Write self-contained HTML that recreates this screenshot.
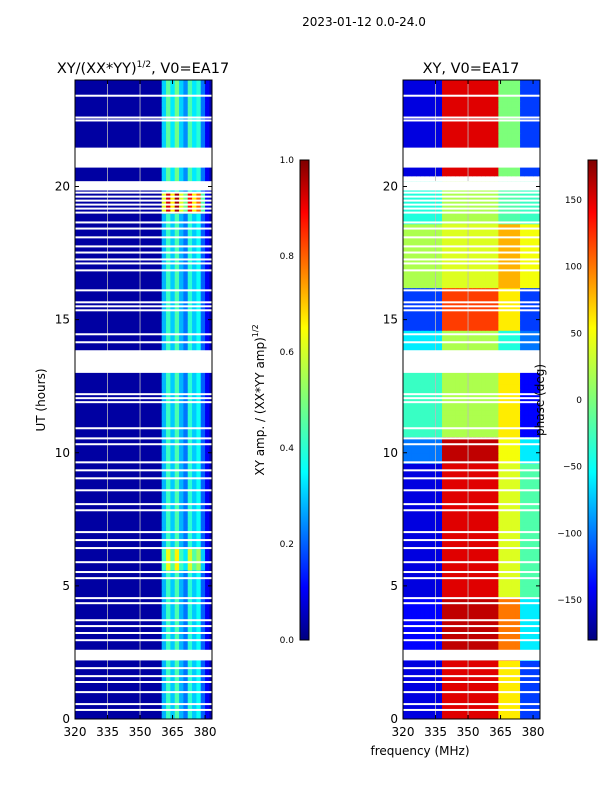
<!DOCTYPE html>
<html><head><meta charset="utf-8">
<style>
body{margin:0;background:#fff;width:600px;height:800px;overflow:hidden}
svg{display:block;font-family:"DejaVu Sans","Liberation Sans",sans-serif}
</style></head>
<body>
<svg id="fig" width="600" height="800" viewBox="0 0 600 800">
<defs>
<linearGradient id="jetv" x1="0" y1="1" x2="0" y2="0">
<stop offset="0" stop-color="#00007f"/><stop offset="0.11" stop-color="#0000ff"/>
<stop offset="0.35" stop-color="#00ffff"/><stop offset="0.5" stop-color="#7dff7a"/>
<stop offset="0.65" stop-color="#ffff00"/><stop offset="0.89" stop-color="#ff0000"/>
<stop offset="1" stop-color="#7f0000"/></linearGradient>
<clipPath id="clipL"><rect x="75" y="80" width="137" height="639"/></clipPath>
<clipPath id="clipR"><rect x="403" y="80" width="137" height="639"/></clipPath>
</defs>
<text x="364" y="26" font-size="12" text-anchor="middle">2023-01-12 0.0-24.0</text>
<text x="143" y="73" font-size="14.5" text-anchor="middle">XY/(XX*YY)<tspan dy="-6" font-size="9">1/2</tspan><tspan dy="6">, V0=EA17</tspan></text>
<text x="471" y="73" font-size="14.5" text-anchor="middle">XY, V0=EA17</text>
<g id="cellsL" clip-path="url(#clipL)"></g>
<g id="cellsR" clip-path="url(#clipR)"></g>
<g id="axes"></g>
<text transform="translate(45,400) rotate(-90)" font-size="12" text-anchor="middle">UT (hours)</text>
<text x="420" y="755" font-size="12" text-anchor="middle">frequency (MHz)</text>
<rect x="300" y="160" width="9" height="480" fill="url(#jetv)" stroke="#000" stroke-width="1"/>
<rect x="588" y="160" width="9" height="480" fill="url(#jetv)" stroke="#000" stroke-width="1"/>
<text transform="translate(264,400) rotate(-90)" font-size="12" text-anchor="middle">XY amp. / (XX*YY amp)<tspan dy="-6" font-size="8">1/2</tspan></text>
<text transform="translate(544,400) rotate(-90)" font-size="12" text-anchor="middle">phase (deg)</text>
</svg>
<script>
const freqs=[320,322,324,326,328,330,332,334,336,338,340,342,344,346,348,350,352,354,356,358,360,362,364,366,368,370,372,374,376,378,380,382];
const colAmp=[0.03,0.03,0.03,0.03,0.03,0.03,0.03,0.03,0.03,0.03,0.03,0.03,0.03,0.03,0.03,0.03,0.03,0.03,0.03,0.03,0.28,0.42,0.3,0.44,0.28,0.22,0.4,0.3,0.36,0.2,0.1,0.04];
const gainStart=[19.0,5.6,20.2];
const gainEnd=[19.8,6.4,24];
const gainVal=[2.2,1.5,1.1];
const phaseSegStart=[0,2.6,5,10,11,13.8,15,16.5,19,20.7];
const phaseSegEnd=[2.2,5,10,11,13,15,16.5,19,20,24];
const phaseRegionVals=[[-150,150,60,-120],[-140,160,100,-60],[-150,150,40,-20],[-100,160,50,-60],[-30,20,60,-140],[-60,20,-40,-100],[-120,120,60,-120],[20,40,80,50],[-40,20,-20,-30],[-150,150,0,-120]];
const flagStart=[20.71,19.85,13.0,2.2];
const flagEnd=[21.46,20.2,13.85,2.6];
const flagLines=[23.41,22.59,22.48,19.77,19.62,19.47,19.32,19.17,19.02,18.65,18.42,18.09,17.75,17.52,17.26,17.11,16.85,16.10,15.65,15.50,15.35,14.45,14.15,12.20,12.05,11.90,10.92,10.54,10.32,9.64,9.34,9.04,8.59,8.07,7.84,7.02,6.72,6.42,5.89,5.52,5.29,4.54,4.35,3.71,3.49,3.23,2.96,1.91,1.61,1.39,1.01,0.56,0.34];
const xTicks=[320,335,350,365,380];
const yTicks=[0,5,10,15,20];
const ampTicks=[0.0,0.2,0.4,0.6,0.8,1.0];
const phaseTicks=[-150,-100,-50,0,50,100,150];

const NS="http://www.w3.org/2000/svg";
const xL=f=>75+(f-320)*137/63.2, xR=f=>403+(f-320)*137/63.2;
const y=h=>719-h*639/24;
function jet(v){v=Math.max(0,Math.min(1,v));
 const st=[[0,0,0,127],[0.11,0,0,255],[0.35,0,255,255],[0.5,125,255,122],[0.65,255,255,0],[0.89,255,0,0],[1,127,0,0]];
 for(let i=1;i<st.length;i++){if(v<=st[i][0]){const a=st[i-1],b=st[i],t=(v-a[0])/(b[0]-a[0]);
  return `rgb(${Math.round(a[1]+t*(b[1]-a[1]))},${Math.round(a[2]+t*(b[2]-a[2]))},${Math.round(a[3]+t*(b[3]-a[3]))})`;}}
 return "rgb(127,0,0)";}
function mk(tag,attrs,parent){const e=document.createElementNS(NS,tag);for(const k in attrs)e.setAttribute(k,attrs[k]);parent.appendChild(e);return e;}
const gL=document.getElementById('cellsL'),gR=document.getElementById('cellsR'),ax=document.getElementById('axes');
const dt=0.2;
function region(f){return f<337?0:f<364?1:f<374?2:3;}
for(let r=0;r<120;r++){
 const h0=r*dt,hm=h0+dt/2;
 let g=1;for(let i=0;i<gainStart.length;i++)if(hm>=gainStart[i]&&hm<gainEnd[i])g=gainVal[i];
 let ps=-1;for(let i=0;i<phaseSegStart.length;i++)if(hm>=phaseSegStart[i]-0.3&&hm<phaseSegEnd[i]+0.3)ps=i;
 for(let c=0;c<freqs.length;c++){
  const f=freqs[c];
  const a=mk('rect',{x:xL(f),y:y(h0+dt),width:xL(f+2)-xL(f)+0.5,height:y(h0)-y(h0+dt)+0.5,fill:jet(colAmp[c]*(colAmp[c]>0.1?g:1))},gL);
  
  
  if(ps>=0){
   const p=phaseRegionVals[ps][region(f)];
   const b=mk('rect',{x:xR(f),y:y(h0+dt),width:xR(f+2)-xR(f)+0.5,height:y(h0)-y(h0+dt)+0.5,fill:jet((p+180)/360)},gR);
   
   
  }
 }
}
[[gL,xL],[gR,xR]].forEach(([g,xf])=>{
 [335,350].forEach(f=>{const l=mk('line',{x1:xf(f),x2:xf(f),y1:80,y2:719,stroke:'#bbb','stroke-width':0.8},g);
  
  });
 for(let i=0;i<flagStart.length;i++){const w=mk('rect',{x:70,y:y(flagEnd[i]),width:480,height:y(flagStart[i])-y(flagEnd[i]),fill:'#fff'},g);
  
  }
 flagLines.forEach(h=>{const w=mk('rect',{x:70,y:y(h)-1,width:480,height:2,fill:'#fff'},g);
  
  });
});
[[75,xL],[403,xR]].forEach(([x0,xf])=>{
 const fr=mk('rect',{x:x0,y:80,width:137,height:639,fill:'none',stroke:'#000','stroke-width':1},ax);
 
 
 xTicks.forEach(t=>{mk('line',{x1:xf(t),x2:xf(t),y1:719,y2:715,stroke:'#000'},ax);mk('line',{x1:xf(t),x2:xf(t),y1:80,y2:84,stroke:'#000'},ax);
  const tx=mk('text',{x:xf(t),y:736,'font-size':12,'text-anchor':'middle'},ax);tx.textContent=t;
  
  });
 yTicks.forEach(t=>{mk('line',{x1:x0,x2:x0+4,y1:y(t),y2:y(t),stroke:'#000'},ax);mk('line',{x1:x0+137,x2:x0+133,y1:y(t),y2:y(t),stroke:'#000'},ax);
  const tx=mk('text',{x:x0-5,y:y(t)+4,'font-size':12,'text-anchor':'end'},ax);tx.textContent=t;
  
  });
});
ampTicks.forEach(t=>{const yy=640-t*480;mk('line',{x1:305,x2:309,y1:yy,y2:yy,stroke:'#000'},ax);
 const tx=mk('text',{x:294,y:yy+3,'font-size':9,'text-anchor':'end'},ax);tx.textContent=t.toFixed(1);
 
 });
phaseTicks.forEach(t=>{const yy=640-(t+180)/360*480;mk('line',{x1:593,x2:597,y1:yy,y2:yy,stroke:'#000'},ax);
 const tx=mk('text',{x:582,y:yy+3,'font-size':9,'text-anchor':'end'},ax);tx.textContent=t===0?'0':(t<0?'\u2212'+(-t):t);
 
 });
</script>
</body></html>
